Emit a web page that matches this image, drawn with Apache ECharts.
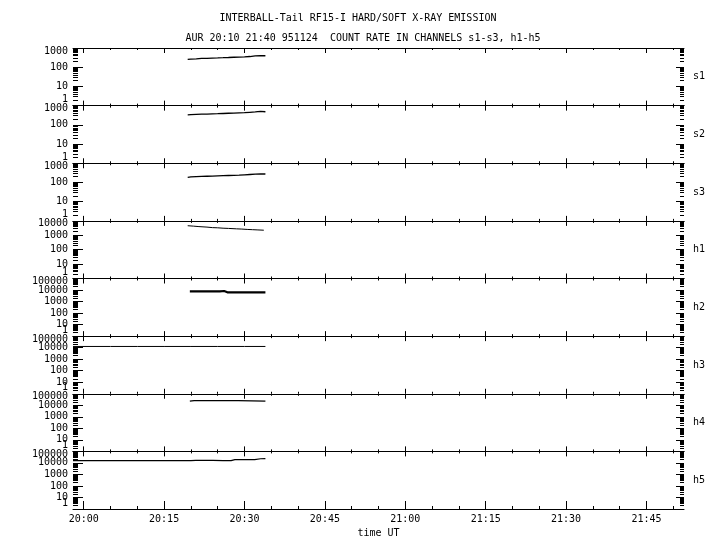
<!DOCTYPE html>
<html><head><meta charset="utf-8">
<script src="https://cdn.jsdelivr.net/npm/echarts@6/dist/echarts.min.js"></script>
<style>html,body{margin:0;padding:0;background:#fff}#c{width:720px;height:550px}</style>
</head><body><div id="c"></div>
<script>
// ---------- data ----------
const titleText = 'INTERBALL-Tail RF15-I HARD/SOFT X-RAY EMISSION';
const subtitleText = 'AUR 20:10 21:40 951124  COUNT RATE IN CHANNELS s1-s3, h1-h5';
const xAxisName = 'time UT';
const channels = ['s1', 's2', 's3', 'h1', 'h2', 'h3', 'h4', 'h5'];
const yMaxValues = [1000, 1000, 1000, 10000, 100000, 100000, 100000, 100000];
const xMin = -2, xMax = 112;               // minutes after 20:00
const xTickMinutes = [0, 15, 30, 45, 60, 75, 90, 105];
const xTickLabels = ['20:00', '20:15', '20:30', '20:45', '21:00', '21:15', '21:30', '21:45'];
const xMinorMinutes = [5, 10, 20, 25, 35, 40, 50, 55, 65, 70, 80, 85, 95, 100, 110];

const sTime = [19.4, 20, 21, 22, 23, 24, 25, 26, 27, 28, 29, 30, 31, 32, 33, 33.9];
const s1Vals = [255, 262, 270, 285, 290, 300, 305, 312, 320, 330, 335, 345, 360, 390, 400, 395];
const s2Vals = [330, 340, 350, 360, 365, 375, 380, 390, 400, 410, 420, 430, 450, 470, 500, 480];
const s3Vals = [185, 195, 200, 205, 210, 215, 220, 225, 230, 235, 240, 250, 260, 270, 280, 275];

const h1Time = [19.4, 20.5, 21.5, 23, 24, 25, 26, 27, 28.5, 29.5, 30.5, 31.5, 32.5, 33.6];
const h1Vals = [4600, 4300, 4000, 3700, 3400, 3300, 3100, 3000, 2800, 2700, 2550, 2450, 2350, 2250];

const h2Time = [19.8, 25.4, 25.6, 26.2, 26.8, 33.9];
const h2Vals = [7700, 7700, 8200, 8200, 6300, 6300];

const h3Time = [-2, 5, 10, 15, 20, 25, 30, 33.9];
const h3Vals = [12700, 12700, 12700, 12700, 12700, 12700, 12700, 12700];

const h4Time = [19.8, 20.6, 28.8, 29.0, 33.9];
const h4Vals = [23000, 25500, 25500, 23000, 23000];

const h5Time = [-2, 5, 10, 15, 20, 20.9, 24.1, 24.3, 26, 27.5, 28.2, 31.9, 32.2, 33, 33.9];
const h5Vals = [15500, 15500, 15500, 15500, 15500, 16500, 16500, 15500, 15500, 15800, 19000, 19500, 22000, 23000, 23200];

const seriesTimes = [sTime, sTime, sTime, h1Time, h2Time, h3Time, h4Time, h5Time];
const seriesVals = [s1Vals, s2Vals, s3Vals, h1Vals, h2Vals, h3Vals, h4Vals, h5Vals];
const seriesWidths = [1.3, 1.3, 1.3, 1, 2.2, 1, 1.4, 1.2];

// ---------- layout / style ----------
const FONT = 'DejaVu Sans Mono';
const LEFT = 73, RIGHT = 36, TOP = 48, PANEL_H = 57.625;
const black = '#000';
const LO_SHIFT_PX = 6, HI_SHIFT_PX = 3;

const grids = [], xAxes = [], yAxes = [], series = [];
channels.forEach((ch, i) => {
  const last = i === channels.length - 1;
  grids.push({ left: LEFT, right: RIGHT, top: TOP + i * PANEL_H, height: PANEL_H, outerBoundsMode: 'none', containLabel: false });
  const baseX = {
    gridIndex: i, type: 'value', min: xMin, max: xMax,
    splitLine: { show: false }, minorTick: { show: false },
    axisLine: { show: false, onZero: false },
    axisLabel: { show: false }
  };
  xAxes.push(Object.assign({}, baseX, {
    position: 'bottom',
    axisLine: { show: true, onZero: false, lineStyle: { color: black, width: 1 } },
    axisTick: { show: true, inside: true, length: last ? 8 : 5, customValues: xTickMinutes, lineStyle: { color: black, width: 1 } },
    axisLabel: {
      show: last, customValues: xTickMinutes, margin: 5, color: black, fontFamily: FONT, fontSize: 10,
      formatter: v => xTickLabels[xTickMinutes.indexOf(v)] || ''
    },
    name: last ? xAxisName : '', nameLocation: 'middle', nameGap: 19,
    nameTextStyle: { color: black, fontFamily: FONT, fontSize: 10 }
  }));
  xAxes.push(Object.assign({}, baseX, {
    position: 'bottom',
    axisTick: { show: true, inside: true, length: last ? 3 : 2, customValues: xMinorMinutes, lineStyle: { color: black, width: 1 } }
  }));
  xAxes.push(Object.assign({}, baseX, {
    position: 'top',
    axisLine: { show: true, onZero: false, lineStyle: { color: black, width: 1 } },
    axisTick: { show: true, inside: true, length: 5, customValues: xTickMinutes, lineStyle: { color: black, width: 1 } }
  }));
  xAxes.push(Object.assign({}, baseX, {
    position: 'top',
    axisTick: { show: true, inside: true, length: 2, customValues: xMinorMinutes, lineStyle: { color: black, width: 1 } }
  }));

  const yMax = yMaxValues[i];
  const decades = Math.round(Math.log10(yMax));
  const decadePx = PANEL_H / decades;
  const minorLogs = [];
  for (let d = 0; d < decades; d++) for (let k = 2; k <= 9; k++) minorLogs.push(d + Math.log10(k));
  const loPos = LO_SHIFT_PX / decadePx, hiPos = decades - HI_SHIFT_PX / decadePx;

  // left main log axis (interior labels)
  yAxes.push({
    gridIndex: i, type: 'log', logBase: 10, min: 1, max: yMax, position: 'left',
    axisLine: { show: false, onZero: false },
    axisTick: { show: true, inside: true, length: 10, lineStyle: { color: black, width: 1 } },
    splitLine: { show: false }, minorTick: { show: false },
    axisLabel: {
      show: true, margin: 5, color: black, fontFamily: FONT, fontSize: 10, lineHeight: 10,
      showMinLabel: true, showMaxLabel: true, hideOverlap: false,
      formatter: v => {
        const r = Math.round(v);
        return (r === 1 || r === yMax) ? '' : String(r);
      }
    }
  });
  // right log axis (ticks + channel name)
  yAxes.push({
    gridIndex: i, type: 'log', logBase: 10, min: 1, max: yMax, position: 'right',
    axisLine: { show: false, onZero: false },
    axisTick: { show: true, inside: true, length: 8, lineStyle: { color: black, width: 1 } },
    splitLine: { show: false }, minorTick: { show: false },
    axisLabel: { show: false },
    name: ch, nameLocation: 'middle', nameRotate: 0, nameGap: 9,
    nameTextStyle: { color: black, fontFamily: FONT, fontSize: 10, align: 'left', verticalAlign: 'middle' }
  });
  // left minor ticks + end labels (1 and max)
  yAxes.push({
    gridIndex: i, type: 'value', min: 0, max: decades, position: 'left',
    axisLine: { show: false, onZero: false },
    axisTick: { show: true, inside: true, length: 5, customValues: minorLogs, lineStyle: { color: black, width: 1 } },
    splitLine: { show: false },
    axisLabel: {
      show: true, customValues: [loPos, hiPos], margin: 5, color: black, fontFamily: FONT, fontSize: 10, lineHeight: 10,
      showMinLabel: true, showMaxLabel: true, hideOverlap: false,
      formatter: v => (v < decades / 2 ? '1' : String(yMax))
    }
  });
  // right minor ticks
  yAxes.push({
    gridIndex: i, type: 'value', min: 0, max: decades, position: 'right',
    axisLine: { show: false, onZero: false },
    axisTick: { show: true, inside: true, length: 4, customValues: minorLogs, lineStyle: { color: black, width: 1 } },
    splitLine: { show: false }, axisLabel: { show: false }
  });

  series.push({
    name: ch, type: 'line', xAxisIndex: 4 * i, yAxisIndex: 4 * i,
    data: seriesTimes[i].map((t, j) => [t, seriesVals[i][j]]),
    symbol: 'none', showSymbol: false, smooth: false,
    lineStyle: { color: black, width: seriesWidths[i] }, itemStyle: { color: black },
    emphasis: { disabled: true }, silent: true
  });
});

const chart = echarts.init(document.getElementById('c'), null, { renderer: 'canvas' });
chart.setOption({
  animation: false,
  backgroundColor: '#fff',
  title: [
    { text: titleText, left: 353, top: 8, textAlign: 'center',
      textStyle: { color: black, fontFamily: FONT, fontSize: 10, fontWeight: 'normal' } },
    { text: subtitleText, left: 358, top: 28, textAlign: 'center',
      textStyle: { color: black, fontFamily: FONT, fontSize: 10, fontWeight: 'normal' } }
  ],
  grid: grids,
  xAxis: xAxes,
  yAxis: yAxes,
  series: series
});
</script>
</body></html>
